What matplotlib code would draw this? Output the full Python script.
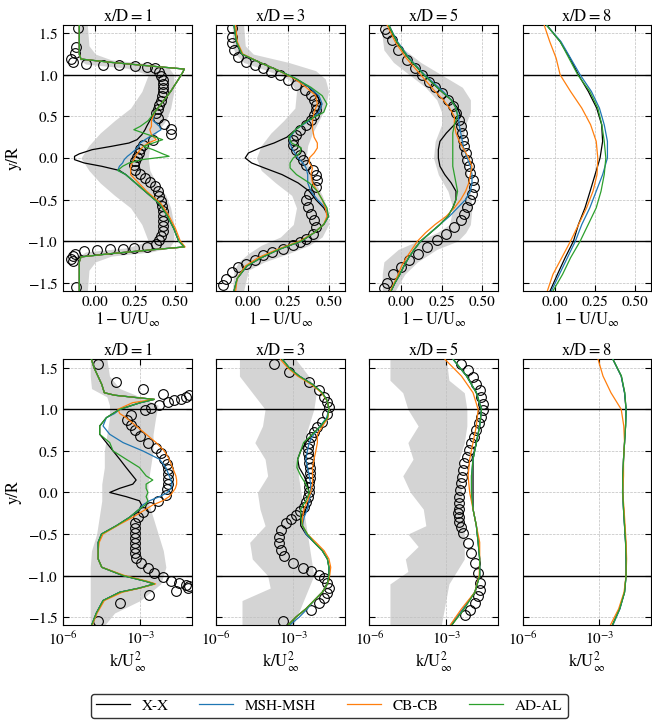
import numpy as np
import matplotlib
matplotlib.use("Agg")
import matplotlib.pyplot as plt
from matplotlib.ticker import FormatStrFormatter

plt.rcParams['font.family'] = 'STIXGeneral'
plt.rcParams['mathtext.fontset'] = 'stix'

titles = ['x/D=1', 'x/D=3', 'x/D=5', 'x/D=8']
series = ['X-X', 'MSH-MSH', 'CB-CB', 'AD-AL']
colors = ['black', '#1f77b4', '#ff7f0e', '#2ca02c']

# ---------------- velocity deficit 1 - U/Uinf (top row) ----------------
u1_y = [1.6, 1.4, 1.25, 1.19, 1.15, 1.1, 1.07, 1.03, 0.95, 0.8, 0.65, 0.55, 0.45, 0.38, 0.34, 0.28,
        0.22, 0.18, 0.14, 0.1, 0.05, 0.02, -0.02, -0.06, -0.1, -0.15, -0.2, -0.3, -0.4, -0.55, -0.7,
        -0.85, -1.0, -1.07, -1.1, -1.15, -1.19, -1.25, -1.4, -1.6]
u1_xx = [-0.10, -0.10, -0.10, -0.09, 0.10, 0.38, 0.555, 0.545, 0.52, 0.47, 0.41, 0.37, 0.34, 0.32, 0.31, 0.29,
         0.26, 0.21, 0.10, -0.02, -0.10, -0.13, -0.13, -0.07, 0.04, 0.15, 0.19, 0.25, 0.31, 0.40, 0.45,
         0.49, 0.52, 0.555, 0.38, 0.10, -0.09, -0.10, -0.10, -0.10]
u1_msh = [-0.10, -0.10, -0.10, -0.09, 0.10, 0.38, 0.555, 0.545, 0.52, 0.47, 0.41, 0.37, 0.36, 0.40, 0.41, 0.36,
          0.31, 0.28, 0.27, 0.25, 0.22, 0.20, 0.18, 0.17, 0.15, 0.14, 0.19, 0.25, 0.31, 0.40, 0.45,
          0.49, 0.52, 0.555, 0.38, 0.10, -0.09, -0.10, -0.10, -0.10]
u1_cb = [-0.10, -0.10, -0.10, -0.09, 0.10, 0.38, 0.555, 0.545, 0.52, 0.47, 0.41, 0.37, 0.35, 0.35, 0.34, 0.35,
         0.38, 0.33, 0.30, 0.28, 0.26, 0.25, 0.24, 0.23, 0.22, 0.22, 0.22, 0.27, 0.32, 0.41, 0.46,
         0.50, 0.53, 0.56, 0.38, 0.10, -0.09, -0.10, -0.10, -0.10]
u1_ad = [-0.10, -0.10, -0.10, -0.09, 0.10, 0.38, 0.555, 0.545, 0.52, 0.47, 0.41, 0.37, 0.33, 0.28, 0.24, 0.33,
         0.42, 0.36, 0.30, 0.36, 0.42, 0.46, 0.29, 0.21, 0.17, 0.14, 0.19, 0.25, 0.31, 0.40, 0.45,
         0.49, 0.52, 0.555, 0.38, 0.10, -0.09, -0.10, -0.10, -0.10]
u1_exp_y = [1.56, 1.34, 1.26, 1.19, 1.16, 1.13, 1.12, 1.12, 1.11, 1.10, 1.08, 1.04, 0.99, 0.94, 0.89, 0.84,
            0.79, 0.74, 0.69, 0.64, 0.59, 0.54, 0.48, 0.41, 0.35, 0.29, 0.22, 0.16, 0.11, 0.06, 0.01, -0.04,
            -0.09, -0.14, -0.19, -0.24, -0.29, -0.34, -0.40, -0.46, -0.52, -0.58, -0.64, -0.70, -0.76, -0.82,
            -0.88, -0.94, -0.99, -1.04, -1.07, -1.08, -1.09, -1.10, -1.11, -1.12, -1.15, -1.18, -1.21, -1.24, -1.55]
u1_exp = [-0.11, -0.12, -0.13, -0.15, -0.14, -0.06, 0.05, 0.15, 0.25, 0.32, 0.37, 0.40, 0.41, 0.42, 0.42, 0.425,
          0.42, 0.415, 0.41, 0.40, 0.39, 0.38, 0.39, 0.43, 0.47, 0.47, 0.36, 0.30, 0.28, 0.27, 0.26, 0.25,
          0.24, 0.25, 0.28, 0.31, 0.34, 0.37, 0.39, 0.40, 0.41, 0.415, 0.42, 0.42, 0.42, 0.42,
          0.42, 0.41, 0.40, 0.38, 0.32, 0.24, 0.17, 0.09, 0.01, -0.07, -0.13, -0.14, -0.15, -0.14, -0.12]
u1_band_y = [1.6, 1.35, 1.25, 1.18, 1.13, 1.08, 1.0, 0.8, 0.6, 0.45, 0.3, 0.15, 0.0, -0.15, -0.3, -0.45,
             -0.6, -0.8, -1.0, -1.08, -1.13, -1.18, -1.25, -1.35, -1.6]
u1_band_lo = [-0.11, -0.11, -0.11, -0.10, -0.06, 0.20, 0.33, 0.29, 0.22, 0.12, 0.03, -0.04, -0.09, -0.04, 0.03,
              0.12, 0.22, 0.29, 0.33, 0.20, -0.06, -0.10, -0.11, -0.11, -0.11]
u1_band_hi = [-0.05, -0.04, 0.0, 0.10, 0.35, 0.46, 0.49, 0.49, 0.47, 0.44, 0.38, 0.34, 0.33, 0.34, 0.38,
              0.44, 0.47, 0.49, 0.49, 0.46, 0.35, 0.10, 0.0, -0.04, -0.05]

u3_y = [1.6, 1.4, 1.25, 1.15, 1.05, 0.95, 0.85, 0.75, 0.65, 0.55, 0.45, 0.35, 0.25, 0.18, 0.12, 0.06, 0.0,
        -0.06, -0.12, -0.2, -0.3, -0.4, -0.5, -0.6, -0.7, -0.8, -0.9, -1.0, -1.1, -1.2, -1.3, -1.45, -1.6]
u3_xx = [-0.09, -0.075, -0.04, 0.07, 0.19, 0.30, 0.38, 0.43, 0.45, 0.43, 0.37, 0.30, 0.24, 0.16, 0.07, 0.0,
         -0.02, 0.02, 0.10, 0.21, 0.31, 0.38, 0.42, 0.47, 0.50, 0.47, 0.41, 0.33, 0.19, 0.08, -0.01, -0.07, -0.09]
u3_msh = [-0.09, -0.075, -0.04, 0.07, 0.19, 0.30, 0.38, 0.44, 0.46, 0.44, 0.38, 0.30, 0.26, 0.26, 0.27, 0.29,
          0.31, 0.34, 0.36, 0.37, 0.37, 0.39, 0.43, 0.48, 0.50, 0.47, 0.41, 0.33, 0.19, 0.08, -0.01, -0.07, -0.09]
u3_cb = [-0.08, -0.07, -0.035, 0.07, 0.19, 0.29, 0.36, 0.42, 0.43, 0.41, 0.40, 0.40, 0.41, 0.43, 0.43, 0.41,
         0.38, 0.38, 0.40, 0.39, 0.40, 0.43, 0.46, 0.48, 0.49, 0.47, 0.41, 0.32, 0.18, 0.06, -0.02, -0.07, -0.08]
u3_ad = [-0.09, -0.075, -0.04, 0.07, 0.19, 0.30, 0.39, 0.46, 0.49, 0.47, 0.37, 0.30, 0.25, 0.27, 0.33, 0.32,
         0.28, 0.26, 0.26, 0.30, 0.38, 0.43, 0.46, 0.49, 0.50, 0.47, 0.41, 0.33, 0.19, 0.08, -0.01, -0.07, -0.09]
u3_exp_y = [1.56, 1.46, 1.38, 1.30, 1.22, 1.16, 1.12, 1.08, 1.04, 1.00, 0.94, 0.88, 0.82, 0.76, 0.70, 0.64,
            0.58, 0.52, 0.46, 0.40, 0.34, 0.28, 0.22, 0.16, 0.10, 0.04, -0.02, -0.08, -0.14, -0.20, -0.27,
            -0.35, -0.43, -0.51, -0.59, -0.67, -0.75, -0.83, -0.91, -0.97, -1.01, -1.05, -1.09, -1.13, -1.17,
            -1.23, -1.27, -1.31, -1.37, -1.45, -1.53]
u3_exp = [-0.10, -0.10, -0.10, -0.09, -0.065, -0.013, 0.04, 0.09, 0.14, 0.195, 0.25, 0.30, 0.35, 0.39, 0.41, 0.42,
          0.42, 0.41, 0.39, 0.36, 0.32, 0.30, 0.28, 0.28, 0.30, 0.32, 0.34, 0.36, 0.40, 0.42, 0.43,
          0.42, 0.38, 0.36, 0.37, 0.39, 0.41, 0.42, 0.40, 0.36, 0.32, 0.28, 0.215, 0.15, 0.09,
          0.04, -0.013, -0.065, -0.10, -0.14, -0.16]
u3_band_y = [1.6, 1.35, 1.25, 1.15, 1.05, 0.95, 0.8, 0.6, 0.45, 0.3, 0.15, 0.0, -0.15, -0.3, -0.45, -0.6,
             -0.8, -0.95, -1.05, -1.15, -1.25, -1.35, -1.6]
u3_band_lo = [-0.10, -0.10, -0.08, -0.03, 0.12, 0.25, 0.30, 0.29, 0.22, 0.14, 0.08, 0.05, 0.08, 0.17, 0.27,
              0.30, 0.28, 0.20, 0.08, 0.0, -0.06, -0.09, -0.10]
u3_band_hi = [-0.03, -0.02, 0.03, 0.25, 0.42, 0.48, 0.50, 0.48, 0.44, 0.40, 0.37, 0.36, 0.38, 0.42, 0.46,
              0.49, 0.50, 0.46, 0.38, 0.25, 0.10, 0.0, -0.03]

u5_y = [1.6, 1.4, 1.2, 1.0, 0.8, 0.7, 0.6, 0.5, 0.4, 0.3, 0.2, 0.1, 0.0, -0.1, -0.2, -0.3, -0.4, -0.5,
        -0.6, -0.7, -0.8, -0.9, -1.0, -1.1, -1.2, -1.3, -1.4, -1.5, -1.6]
u5_xx = [-0.08, -0.03, 0.045, 0.14, 0.25, 0.31, 0.35, 0.37, 0.33, 0.28, 0.24, 0.23, 0.23, 0.24, 0.27, 0.31,
         0.34, 0.34, 0.32, 0.29, 0.24, 0.18, 0.12, 0.08, 0.045, 0.015, -0.01, -0.04, -0.065]
u5_msh = [-0.08, -0.025, 0.05, 0.145, 0.26, 0.31, 0.34, 0.355, 0.36, 0.37, 0.38, 0.39, 0.41, 0.43, 0.44, 0.44,
          0.43, 0.40, 0.35, 0.30, 0.24, 0.18, 0.12, 0.08, 0.045, 0.015, -0.01, -0.04, -0.065]
u5_cb = [-0.09, -0.04, 0.03, 0.12, 0.21, 0.26, 0.30, 0.33, 0.33, 0.34, 0.36, 0.39, 0.42, 0.44, 0.43, 0.42,
         0.40, 0.37, 0.33, 0.28, 0.21, 0.15, 0.10, 0.065, 0.03, 0.0, -0.02, -0.045, -0.07]
u5_ad = [-0.08, -0.03, 0.045, 0.14, 0.25, 0.31, 0.34, 0.35, 0.33, 0.32, 0.32, 0.32, 0.32, 0.32, 0.33, 0.34,
         0.35, 0.34, 0.32, 0.29, 0.24, 0.18, 0.12, 0.08, 0.045, 0.015, -0.01, -0.04, -0.065]
u5_exp_y = [1.55, 1.50, 1.42, 1.30, 1.18, 1.08, 1.00, 0.92, 0.85, 0.78, 0.70, 0.62, 0.54, 0.46, 0.38, 0.30,
            0.22, 0.14, 0.06, -0.02, -0.10, -0.18, -0.27, -0.35, -0.43, -0.51, -0.59, -0.67, -0.75, -0.83,
            -0.91, -0.99, -1.07, -1.15, -1.23, -1.31, -1.40, -1.50, -1.57]
u5_exp = [-0.10, -0.09, -0.06, -0.02, 0.035, 0.087, 0.128, 0.17, 0.21, 0.25, 0.29, 0.32, 0.34, 0.36, 0.37, 0.38,
          0.385, 0.39, 0.40, 0.41, 0.42, 0.43, 0.445, 0.45, 0.44, 0.425, 0.41, 0.39, 0.37, 0.33,
          0.28, 0.22, 0.16, 0.10, 0.05, 0.0, -0.05, -0.09, -0.11]
u5_band_y = [1.6, 1.45, 1.3, 1.15, 1.0, 0.85, 0.7, 0.55, 0.4, 0.2, 0.0, -0.2, -0.4, -0.6, -0.8, -0.9,
             -1.0, -1.1, -1.25, -1.4, -1.6]
u5_band_lo = [-0.12, -0.12, -0.11, -0.05, 0.05, 0.15, 0.22, 0.25, 0.25, 0.21, 0.20, 0.23, 0.29, 0.32, 0.30,
              0.22, 0.10, -0.02, -0.11, -0.12, -0.12]
u5_band_hi = [-0.07, -0.05, 0.02, 0.12, 0.25, 0.38, 0.43, 0.43, 0.40, 0.38, 0.39, 0.41, 0.43, 0.44, 0.43,
              0.40, 0.35, 0.22, 0.10, 0.02, -0.04]

u8_y = [1.6, 1.4, 1.2, 1.0, 0.8, 0.6, 0.4, 0.2, 0.0, -0.2, -0.4, -0.6, -0.8, -1.0, -1.2, -1.4, -1.6]
u8_xx = [-0.05, 0.035, 0.097, 0.149, 0.211, 0.263, 0.294, 0.30, 0.284, 0.253, 0.222, 0.19, 0.149, 0.118,
         0.066, 0.018, -0.028]
u8_msh = [-0.05, 0.04, 0.10, 0.16, 0.23, 0.28, 0.31, 0.33, 0.33, 0.30, 0.26, 0.22, 0.17, 0.13, 0.08, 0.03, -0.02]
u8_cb = [-0.065, -0.03, 0.01, 0.035, 0.10, 0.17, 0.225, 0.26, 0.27, 0.265, 0.24, 0.20, 0.15, 0.10, 0.045,
         -0.01, -0.045]
u8_ad = [-0.05, 0.035, 0.09, 0.145, 0.22, 0.27, 0.295, 0.31, 0.32, 0.31, 0.29, 0.26, 0.21, 0.16, 0.10, 0.05, -0.01]

# ---------------- turbulent kinetic energy k/Uinf^2 (bottom row), log10 values ----------------
k1_y = [1.6, 1.5, 1.4, 1.3, 1.2, 1.17, 1.14, 1.12, 1.08, 1.0, 0.95, 0.9, 0.8, 0.7, 0.6, 0.5, 0.4, 0.3, 0.2,
        0.15, 0.1, 0.05, 0.0, -0.05, -0.1, -0.15, -0.2, -0.3, -0.4, -0.5, -0.6, -0.7, -0.8, -0.9, -1.0,
        -1.07, -1.1, -1.15, -1.2, -1.3, -1.45, -1.6]
k1_xx = [-4.9, -4.8, -4.65, -4.5, -4.4, -4.0, -3.1, -2.45, -3.0, -3.8, -4.06, -4.32, -4.58, -4.58, -4.32,
         -4.06, -3.8, -3.55, -3.29, -3.16, -3.29, -3.8, -4.19, -3.55, -3.03, -2.95, -3.03, -3.42, -3.93,
         -4.51, -4.64, -4.64, -4.64, -4.5, -3.67, -2.77, -2.45, -3.03, -3.8, -4.45, -4.71, -4.9]
k1_msh = [-4.9, -4.8, -4.65, -4.5, -4.4, -4.0, -3.1, -2.45, -3.0, -3.8, -4.0, -4.32, -4.45, -4.19, -3.67,
          -2.9, -2.25, -2.0, -1.87, -1.8, -1.76, -1.8, -1.93, -2.25, -2.64, -2.9, -3.03, -3.42, -3.93,
          -4.51, -4.64, -4.64, -4.64, -4.5, -3.67, -2.77, -2.45, -3.03, -3.8, -4.45, -4.71, -4.9]
k1_cb = [-4.9, -4.8, -4.65, -4.5, -4.4, -4.0, -3.1, -2.45, -3.3, -3.87, -3.8, -3.55, -3.16, -2.77, -2.38,
         -2.06, -1.87, -1.74, -1.61, -1.58, -1.58, -1.63, -1.74, -1.87, -2.12, -2.51, -2.77, -3.3, -3.9,
         -4.45, -4.6, -4.64, -4.64, -4.5, -3.6, -2.7, -2.4, -3.0, -3.7, -4.4, -4.68, -4.88]
k1_ad = [-4.9, -4.8, -4.65, -4.5, -4.4, -4.0, -3.1, -2.45, -3.0, -3.8, -4.06, -4.32, -4.58, -4.58, -4.19,
         -4.06, -3.55, -3.03, -2.77, -2.51, -2.77, -2.77, -2.7, -2.77, -2.7, -2.8, -3.03, -3.42, -3.93,
         -4.51, -4.64, -4.64, -4.64, -4.5, -3.67, -2.77, -2.45, -3.03, -3.8, -4.45, -4.71, -4.9]
k1_exp_y = [1.55, 1.33, 1.25, 1.19, 1.17, 1.15, 1.13, 1.11, 1.09, 1.05, 1.02, 0.99, 0.93, 0.87, 0.81, 0.75,
            0.68, 0.60, 0.53, 0.47, 0.40, 0.34, 0.28, 0.22, 0.16, 0.10, 0.04, -0.03, -0.10, -0.17, -0.23,
            -0.30, -0.37, -0.43, -0.49, -0.55, -0.61, -0.67, -0.73, -0.79, -0.85, -0.91, -0.97, -1.02, -1.06,
            -1.09, -1.11, -1.13, -1.15, -1.19, -1.23, -1.33, -1.55]
k1_exp = [-4.64, -3.93, -2.9, -2.1, -1.09, -1.22, -1.41, -1.67, -1.93, -2.25, -2.58, -2.83, -3.35, -3.5, -3.35,
          -3.2, -3.0, -2.7, -2.38, -2.19, -2.06, -1.95, -1.93, -1.93, -1.93, -1.93, -1.95, -2.0, -2.3, -2.6,
          -2.9, -3.1, -3.2, -3.22, -3.22, -3.22, -3.22, -3.22, -3.2, -3.15, -2.96, -2.7, -2.45, -2.12, -1.8,
          -1.48, -1.22, -1.09, -1.15, -1.6, -2.64, -3.8, -4.64]
k1_band_y = [1.6, 1.4, 1.25, 1.15, 1.05, 0.9, 0.7, 0.5, 0.3, 0.1, -0.1, -0.3, -0.5, -0.7, -0.9, -1.1,
             -1.3, -1.45, -1.6]
k1_band_lo = [-4.95, -4.95, -4.9, -4.3, -4.2, -4.2, -4.3, -4.4, -4.4, -4.5, -4.5, -4.6, -4.7, -4.9, -4.95,
              -4.95, -4.95, -4.95, -4.95]
k1_band_hi = [-4.3, -4.2, -3.8, -3.0, -2.3, -2.4, -2.5, -2.5, -2.6, -2.7, -2.7, -2.5, -2.3, -2.1, -2.0,
              -2.2, -3.0, -4.0, -4.4]

k3_y = [1.6, 1.5, 1.4, 1.3, 1.2, 1.1, 1.0, 0.9, 0.8, 0.7, 0.6, 0.5, 0.4, 0.3, 0.2, 0.1, 0.0, -0.1, -0.2,
        -0.3, -0.4, -0.5, -0.6, -0.7, -0.8, -0.9, -1.0, -1.1, -1.2, -1.3, -1.4, -1.5, -1.6]
k3_xx = [-3.42, -3.16, -2.77, -2.25, -1.87, -1.67, -1.61, -1.67, -1.93, -2.25, -2.51, -2.71, -2.83, -2.77,
         -2.58, -2.45, -2.38, -2.38, -2.51, -2.71, -2.71, -2.51, -2.19, -1.87, -1.67, -1.61, -1.61, -1.67,
         -1.87, -2.19, -2.51, -2.9, -3.22]
k3_msh = [-3.42, -3.16, -2.77, -2.25, -1.87, -1.67, -1.61, -1.7, -1.95, -2.2, -2.38, -2.45, -2.51, -2.45,
          -2.38, -2.32, -2.32, -2.38, -2.45, -2.58, -2.64, -2.51, -2.19, -1.87, -1.67, -1.61, -1.61, -1.67,
          -1.87, -2.19, -2.45, -2.77, -3.16]
k3_cb = [-3.5, -3.22, -2.83, -2.3, -1.9, -1.67, -1.61, -1.65, -1.85, -2.06, -2.06, -2.12, -2.19, -2.25,
         -2.25, -2.25, -2.32, -2.45, -2.58, -2.64, -2.64, -2.45, -2.12, -1.8, -1.61, -1.54, -1.58, -1.67,
         -1.87, -2.19, -2.51, -2.9, -3.22]
k3_ad = [-3.42, -3.16, -2.77, -2.25, -1.87, -1.67, -1.61, -1.67, -1.93, -2.25, -2.6, -2.71, -2.83, -2.86,
         -2.71, -2.51, -2.38, -2.51, -2.71, -2.71, -2.64, -2.45, -2.19, -1.87, -1.67, -1.61, -1.61, -1.67,
         -1.87, -2.19, -2.51, -2.9, -3.22]
k3_exp_y = [1.55, 1.45, 1.33, 1.23, 1.15, 1.09, 1.03, 0.95, 0.85, 0.79, 0.73, 0.67, 0.60, 0.54, 0.48, 0.42,
            0.36, 0.30, 0.24, 0.18, 0.12, 0.06, 0.0, -0.06, -0.12, -0.17, -0.22, -0.27, -0.32, -0.37, -0.45,
            -0.53, -0.61, -0.69, -0.77, -0.85, -0.91, -0.95, -0.99, -1.03, -1.09, -1.15, -1.21, -1.27, -1.33,
            -1.41, -1.55]
k3_exp = [-3.74, -3.16, -2.38, -2.0, -1.8, -1.67, -1.61, -1.67, -1.87, -2.06, -2.19, -2.32, -2.4, -2.42,
          -2.42, -2.4, -2.38, -2.36, -2.36, -2.36, -2.38, -2.38, -2.4, -2.42, -2.5, -2.58, -2.75, -2.9, -3.1,
          -3.29, -3.48, -3.55, -3.55, -3.48, -3.35, -3.03, -2.64, -2.32, -2.0, -1.8, -1.67, -1.6, -1.67,
          -1.8, -2.0, -2.32, -3.42]
k3_band_y = [1.6, 1.4, 1.2, 1.0, 0.8, 0.6, 0.4, 0.2, 0.0, -0.2, -0.4, -0.6, -0.8, -1.0, -1.15, -1.3, -1.6]
k3_band_lo = [-5.1, -5.1, -4.6, -4.1, -4.2, -4.5, -4.1, -4.0, -4.4, -4.3, -4.1, -4.7, -4.6, -4.0, -3.9,
              -5.0, -5.0]
k3_band_hi = [-2.9, -2.4, -2.1, -2.2, -2.4, -2.6, -2.8, -2.8, -2.7, -2.6, -2.5, -2.4, -2.3, -2.2, -2.4,
              -2.6, -3.0]

k5_y = [1.6, 1.4, 1.2, 1.0, 0.8, 0.6, 0.4, 0.2, 0.0, -0.2, -0.4, -0.6, -0.8, -1.0, -1.2, -1.4, -1.6]
k5_xx = [-2.73, -2.21, -1.83, -1.63, -1.7, -1.83, -1.96, -1.96, -1.96, -1.96, -1.83, -1.76, -1.7, -1.7,
         -1.89, -2.34, -2.8]
k5_msh = [-2.73, -2.21, -1.83, -1.63, -1.7, -1.83, -1.96, -2.02, -2.02, -1.96, -1.83, -1.76, -1.7, -1.7,
          -1.89, -2.34, -2.85]
k5_cb = [-3.05, -2.41, -1.96, -1.76, -1.83, -1.96, -2.09, -2.15, -2.09, -1.96, -1.83, -1.7, -1.7, -1.72,
         -1.89, -2.41, -2.86]
k5_ad = [-2.73, -2.21, -1.83, -1.63, -1.7, -1.83, -1.96, -2.02, -2.02, -1.96, -1.83, -1.76, -1.7, -1.7,
         -1.89, -2.3, -2.8]
k5_exp_y = [1.55, 1.47, 1.39, 1.31, 1.23, 1.15, 1.07, 0.99, 0.91, 0.83, 0.75, 0.67, 0.59, 0.51, 0.43, 0.35,
            0.27, 0.19, 0.11, 0.03, -0.05, -0.13, -0.20, -0.25, -0.30, -0.35, -0.42, -0.49, -0.61, -0.73,
            -0.85, -0.97, -1.09, -1.17, -1.25, -1.33, -1.41, -1.47]
k5_exp = [-2.41, -2.15, -1.96, -1.83, -1.7, -1.63, -1.59, -1.59, -1.63, -1.72, -1.83, -1.93, -2.02, -2.11,
          -2.21, -2.31, -2.34, -2.38, -2.43, -2.47, -2.5, -2.5, -2.52, -2.53, -2.52, -2.5, -2.42, -2.34,
          -2.15, -2.02, -1.89, -1.76, -1.7, -1.7, -1.76, -1.89, -2.09, -2.28]
k5_band_y = [1.6, 1.35, 1.2, 1.0, 0.8, 0.6, 0.4, 0.2, 0.0, -0.2, -0.4, -0.5, -0.65, -0.8, -0.95, -1.1, -1.6]
k5_band_lo = [-5.2, -5.2, -4.7, -4.5, -4.1, -4.5, -4.3, -4.7, -4.4, -3.9, -3.8, -4.5, -4.1, -4.6, -4.5,
              -5.2, -5.2]
k5_band_hi = [-3.0, -2.9, -2.3, -2.2, -2.2, -2.3, -2.5, -2.5, -2.4, -2.4, -2.3, -2.3, -2.3, -2.3, -2.6,
              -2.9, -3.2]

k8_y = [1.6, 1.4, 1.2, 1.0, 0.8, 0.6, 0.4, 0.2, 0.0, -0.2, -0.4, -0.6, -0.8, -1.0, -1.2, -1.4, -1.6]
k8_xx = [-2.47, -2.15, -2.02, -1.96, -1.98, -2.02, -2.06, -2.09, -2.09, -2.06, -2.02, -1.98, -1.96, -1.96,
         -2.02, -2.21, -2.5]
k8_msh = [-2.47, -2.15, -2.02, -1.96, -1.98, -2.02, -2.06, -2.08, -2.1, -2.06, -2.02, -1.98, -1.96, -1.96,
          -2.02, -2.2, -2.48]
k8_cb = [-3.05, -2.86, -2.55, -2.15, -2.05, -2.02, -2.06, -2.06, -2.09, -2.04, -2.0, -1.96, -1.94, -1.96,
         -2.04, -2.25, -2.58]
k8_ad = [-2.47, -2.14, -2.01, -1.96, -1.98, -2.02, -2.06, -2.09, -2.09, -2.06, -2.02, -1.98, -1.96, -1.96,
         -2.02, -2.21, -2.5]

top_panels = [
    (u1_y, [u1_xx, u1_msh, u1_cb, u1_ad], (u1_exp_y, u1_exp), (u1_band_y, u1_band_lo, u1_band_hi)),
    (u3_y, [u3_xx, u3_msh, u3_cb, u3_ad], (u3_exp_y, u3_exp), (u3_band_y, u3_band_lo, u3_band_hi)),
    (u5_y, [u5_xx, u5_msh, u5_cb, u5_ad], (u5_exp_y, u5_exp), (u5_band_y, u5_band_lo, u5_band_hi)),
    (u8_y, [u8_xx, u8_msh, u8_cb, u8_ad], None, None),
]
bottom_panels = [
    (k1_y, [k1_xx, k1_msh, k1_cb, k1_ad], (k1_exp_y, k1_exp), (k1_band_y, k1_band_lo, k1_band_hi)),
    (k3_y, [k3_xx, k3_msh, k3_cb, k3_ad], (k3_exp_y, k3_exp), (k3_band_y, k3_band_lo, k3_band_hi)),
    (k5_y, [k5_xx, k5_msh, k5_cb, k5_ad], (k5_exp_y, k5_exp), (k5_band_y, k5_band_lo, k5_band_hi)),
    (k8_y, [k8_xx, k8_msh, k8_cb, k8_ad], None, None),
]

fig, axes = plt.subplots(2, 4, figsize=(6.52, 7.22), dpi=100, sharey=True)
fig.subplots_adjust(left=0.0971, right=0.998, top=0.9654, bottom=0.1337, wspace=0.194, hspace=0.2575)


def draw(ax, panel, log):
    y, lines, exp, band = panel
    conv = (lambda a: np.power(10.0, a)) if log else np.asarray
    if band is not None:
        ax.fill_betweenx(band[0], conv(band[1]), conv(band[2]), color='0.83', lw=0, zorder=0)
    ax.grid(True, ls='--', lw=0.5, color='0.75')
    ax.axhline(1.0, color='k', lw=1.0, zorder=2.2)
    ax.axhline(-1.0, color='k', lw=1.0, zorder=2.2)
    if exp is not None:
        ax.plot(conv(exp[1]), exp[0], 'o', mfc='none', mec='k', ms=7, mew=0.8, zorder=2.5)
    for vals, c, lab in zip(lines, colors, series):
        ax.plot(conv(vals), y, color=c, lw=0.9, label=lab, zorder=3)
    ax.tick_params(direction='in', right=True, top=True, labelsize=11, length=4.5)


for j in range(4):
    ax = axes[0, j]
    draw(ax, top_panels[j], False)
    ax.set_xlim(-0.2, 0.6)
    ax.set_xticks([0.0, 0.25, 0.5])
    ax.xaxis.set_major_formatter(FormatStrFormatter('%.2f'))
    ax.set_title(r'$\mathrm{' + titles[j] + '}$', fontsize=12, pad=3)
    ax.set_xlabel(r'$\mathrm{1-U/U_\infty}$', fontsize=12, labelpad=1)

    ax = axes[1, j]
    draw(ax, bottom_panels[j], True)
    ax.set_xscale('log')
    ax.set_xlim(1e-6, 1e-1)
    ax.set_xticks([1e-6, 1e-3])
    ax.minorticks_off()
    ax.set_title(r'$\mathrm{' + titles[j] + '}$', fontsize=12, pad=3)
    ax.set_xlabel(r'$\mathrm{k/U^2_\infty}$', fontsize=12, labelpad=1)

axes[0, 0].set_ylim(-1.6, 1.6)
axes[0, 0].set_yticks([-1.5, -1.0, -0.5, 0.0, 0.5, 1.0, 1.5])
axes[0, 0].yaxis.set_major_formatter(FormatStrFormatter(r'$%.1f$'))
axes[0, 0].set_ylabel('y/R', fontsize=12)
axes[1, 0].set_ylabel('y/R', fontsize=12)

handles, labels = axes[0, 0].get_legend_handles_labels()
fig.legend(handles, labels, loc='center', bbox_to_anchor=(0.505, 0.0225), ncol=4, fontsize=11,
           frameon=True, edgecolor='black', fancybox=True, handlelength=2.2, handletextpad=0.8,
           columnspacing=2.0, borderpad=0.35)

fig.savefig('out.png', dpi=100)
